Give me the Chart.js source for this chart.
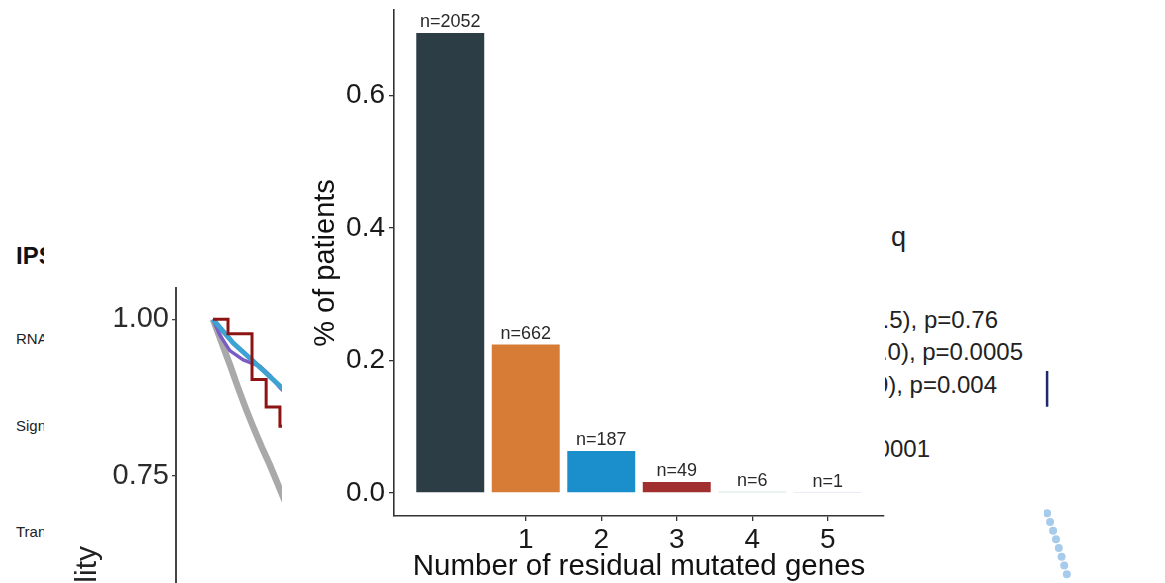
<!DOCTYPE html>
<html>
<head>
<meta charset="utf-8">
<title>Residual mutated genes</title>
<script src="https://cdn.jsdelivr.net/npm/chart.js@4.4.1/dist/chart.umd.min.js"></script>
<style>
  html, body { margin: 0; padding: 0; background: #fff; overflow: hidden; }
  body { width: 1165px; height: 583px; position: relative; font-family: "Liberation Sans", Arial, sans-serif; }
  .clip { position: absolute; overflow: hidden; }
  .txt { position: absolute; white-space: nowrap; color: #222; }
  #kmWrap { left: 0; top: 0; width: 282px; height: 583px; }
  #barWrap { left: 282px; top: 0; width: 603px; height: 583px; background: #fff; }
  #dotWrap { left: 1040px; top: 340px; width: 125px; height: 243px; }
</style>
</head>
<body>

<!-- left panel: cohort labels -->
<div class="clip" style="left:0;top:0;width:44px;height:583px;">
  <div class="txt" style="left:16px;top:244px;font-size:24px;line-height:24px;font-weight:bold;color:#111;">IPSS-M</div>
  <div class="txt" style="left:16px;top:331px;font-size:15px;line-height:15px;">RNA-seq</div>
  <div class="txt" style="left:16px;top:418px;font-size:15px;line-height:15px;">Signature</div>
  <div class="txt" style="left:16px;top:524px;font-size:15px;line-height:15px;">Transcript</div>
</div>

<!-- survival panel -->
<div id="kmWrap" class="clip"><canvas id="kmChart" width="990" height="997"></canvas></div>
<div class="txt" style="left:71px;top:846px;width:300px;text-align:right;font-size:30px;line-height:30px;color:#222;transform:rotate(-90deg);transform-origin:left top;">Survival probability</div>

<!-- main bar chart -->
<div id="barWrap" class="clip"><canvas id="barChart" width="603" height="600"></canvas></div>

<!-- right panel: statistics text -->
<div class="clip" style="left:890px;top:220px;width:40px;height:40px;">
  <div class="txt" style="right:24px;top:4px;font-size:27px;line-height:27px;">RNA-seq</div>
</div>
<div class="clip" style="left:885px;top:300px;width:160px;height:170px;">
  <div class="txt" style="right:47px;top:8px;font-size:24px;line-height:24px;">HR=1.06 (0.73-1.5), p=0.76</div>
  <div class="txt" style="right:22px;top:40px;font-size:24px;line-height:24px;">HR=2.05 (1.37-3.0), p=0.0005</div>
  <div class="txt" style="right:48px;top:73px;font-size:24px;line-height:24px;">HR=1.84 (1.2-2.9), p=0.004</div>
  <div class="txt" style="right:115px;top:137px;font-size:24px;line-height:24px;">Log-rank p&lt;0.0001</div>
</div>
<div id="dotWrap" class="clip"><canvas id="dotChart" width="125" height="243"></canvas></div>

<script>
// patients per number of residual mutated genes
const categories = [0, 1, 2, 3, 4, 5];
const patientCounts = [2052, 662, 187, 49, 6, 1];
const barColors = ['#2c3d45', '#d77c37', '#1b8fcb', '#a12f2f', '#a9d3c3', '#d9dae9'];
const xTickValues = [1, 2, 3, 4, 5];
const yTickValues = [0, 0.2, 0.4, 0.6];

// survival curves (years, probability)
const greyTime = [0, 0.134, 0.253, 0.371, 0.49, 0.609, 0.728, 0.847, 0.966, 1.085, 1.2];
const greySurv = [1.0, 0.961, 0.927, 0.891, 0.857, 0.825, 0.795, 0.767, 0.736, 0.705, 0.68];
const redTime = [0, 0.223, 0.58, 0.79, 0.995, 1.2];
const redSurv = [1.0, 0.977, 0.904, 0.86, 0.829, 0.8];
const blueTime = [0, 0.3, 0.6, 0.9, 1.05, 1.2];
const blueSurv = [1.0, 0.962, 0.933, 0.903, 0.888, 0.87];
const purpleTime = [0, 0.1, 0.25, 0.45, 0.7, 0.85, 1.0, 1.2];
const purpleSurv = [1.0, 0.975, 0.95, 0.935, 0.925, 0.91, 0.89, 0.87];
const kmTickValues = [0, 0.25, 0.5, 0.75, 1];

// neighbouring dot panel
const dotX = [3.3, 6.5, 9.7, 12.8, 15.8, 18.8, 21.6, 24.4];
const dotY = [175, 184, 193, 202, 211, 220, 229, 238];
const bracketX = [3.3, 3.3];
const bracketY = [28, 65];

const FONT = '"Liberation Sans", Arial, sans-serif';
const total = patientCounts.reduce((a, b) => a + b, 0);
const shares = patientCounts.map(n => n / total);

const zip = (xs, ys) => xs.map((x, i) => ({ x, y: ys[i] }));

// keep the axis boxes exactly where the layout puts them
const noLabelPadding = s => {
    s.paddingTop = 0;
    s.paddingBottom = 0;
    s.paddingLeft = 0;
    s.paddingRight = 0;
};

// n= labels above each bar
const countLabels = {
    id: 'countLabels',
    afterDatasetsDraw(chart) {
        const { ctx } = chart;
        const meta = chart.getDatasetMeta(0);
        ctx.save();
        ctx.font = '18px ' + FONT;
        ctx.fillStyle = '#2a2a2a';
        ctx.textAlign = 'center';
        ctx.textBaseline = 'alphabetic';
        meta.data.forEach((bar, i) => {
            ctx.fillText('n=' + patientCounts[i], bar.x, bar.y - 6);
        });
        ctx.restore();
    }
};

new Chart(document.getElementById('barChart'), {
    type: 'bar',
    data: {
        datasets: [{
            data: zip(categories, shares),
            backgroundColor: barColors,
            borderWidth: 0,
            barPercentage: 0.9,
            categoryPercentage: 1
        }]
    },
    options: {
        responsive: false,
        animation: false,
        devicePixelRatio: 1,
        layout: { padding: { top: 10, right: 1, bottom: 0, left: 0 } },
        plugins: { legend: { display: false }, tooltip: { enabled: false } },
        scales: {
            x: {
                type: 'linear',
                min: -0.745,
                max: 5.745,
                offset: false,
                afterBuildTicks: s => { s.ticks = xTickValues.map(v => ({ value: v })); },
                afterFit: s => { s.height = 84; noLabelPadding(s); },
                grid: { display: true, offset: false, drawOnChartArea: false, tickLength: 5, color: '#333', lineWidth: 1.3 },
                border: { display: true, color: '#333', width: 1.6 },
                ticks: { font: { family: FONT, size: 28 }, color: '#1a1a1a', padding: 2, maxRotation: 0 },
                title: {
                    display: true,
                    text: 'Number of residual mutated genes',
                    font: { family: FONT, size: 29.5 },
                    color: '#111',
                    padding: { top: 0, bottom: 15 }
                }
            },
            y: {
                min: -0.0347,
                max: 0.7287,
                afterBuildTicks: s => { s.ticks = yTickValues.map(v => ({ value: v })); },
                afterFit: s => { s.width = 112; noLabelPadding(s); },
                grid: { display: true, drawOnChartArea: false, tickLength: 5, color: '#333', lineWidth: 1.3 },
                border: { display: true, color: '#333', width: 1.6 },
                ticks: { font: { family: FONT, size: 28 }, color: '#1a1a1a', padding: 4, callback: v => v.toFixed(1) },
                title: {
                    display: true,
                    text: '% of patients',
                    font: { family: FONT, size: 29 },
                    color: '#111',
                    padding: { top: 27, bottom: 0 }
                }
            }
        }
    },
    plugins: [countLabels]
});

const kmLine = (time, surv, color, width) => ({
    data: zip(time, surv),
    borderColor: color,
    borderWidth: width,
    pointRadius: 0,
    fill: false,
    tension: 0
});

new Chart(document.getElementById('kmChart'), {
    type: 'line',
    data: {
        datasets: [
            Object.assign(kmLine(redTime, redSurv, '#8e1414', 3), { stepped: true }),
            kmLine(blueTime, blueSurv, '#3ea2d2', 5),
            kmLine(purpleTime, purpleSurv, '#7b5cc4', 3.5),
            kmLine(greyTime, greySurv, '#a9a9a9', 6.5)
        ]
    },
    options: {
        responsive: false,
        animation: false,
        devicePixelRatio: 1,
        layout: { padding: { top: 288, right: 0, bottom: 0, left: 0 } },
        plugins: { legend: { display: false }, tooltip: { enabled: false } },
        scales: {
            x: { type: 'linear', min: -0.55, max: 11.55, display: false },
            y: {
                min: -0.05,
                max: 1.05,
                afterBuildTicks: s => { s.ticks = kmTickValues.map(v => ({ value: v })); },
                afterFit: s => { s.width = 176; },
                grid: { display: true, drawOnChartArea: false, tickLength: 4, color: '#444', lineWidth: 1.3 },
                border: { display: true, color: '#444', width: 2 },
                ticks: { font: { family: FONT, size: 29 }, color: '#2b2b2b', padding: 3, callback: v => v.toFixed(2) }
            }
        }
    }
});

new Chart(document.getElementById('dotChart'), {
    type: 'scatter',
    data: {
        datasets: [
            {
                type: 'line',
                data: zip(bracketX, bracketY),
                borderColor: '#1c2a6b',
                borderWidth: 2.5,
                pointRadius: 0
            },
            {
                data: zip(dotX, dotY),
                backgroundColor: '#a7cbea',
                borderWidth: 0,
                pointRadius: 4
            }
        ]
    },
    options: {
        responsive: false,
        animation: false,
        devicePixelRatio: 1,
        layout: { padding: 0 },
        plugins: { legend: { display: false }, tooltip: { enabled: false } },
        scales: {
            x: { type: 'linear', min: 0, max: 125, display: false },
            y: { type: 'linear', min: 0, max: 243, reverse: true, display: false }
        }
    }
});
</script>
</body>
</html>
